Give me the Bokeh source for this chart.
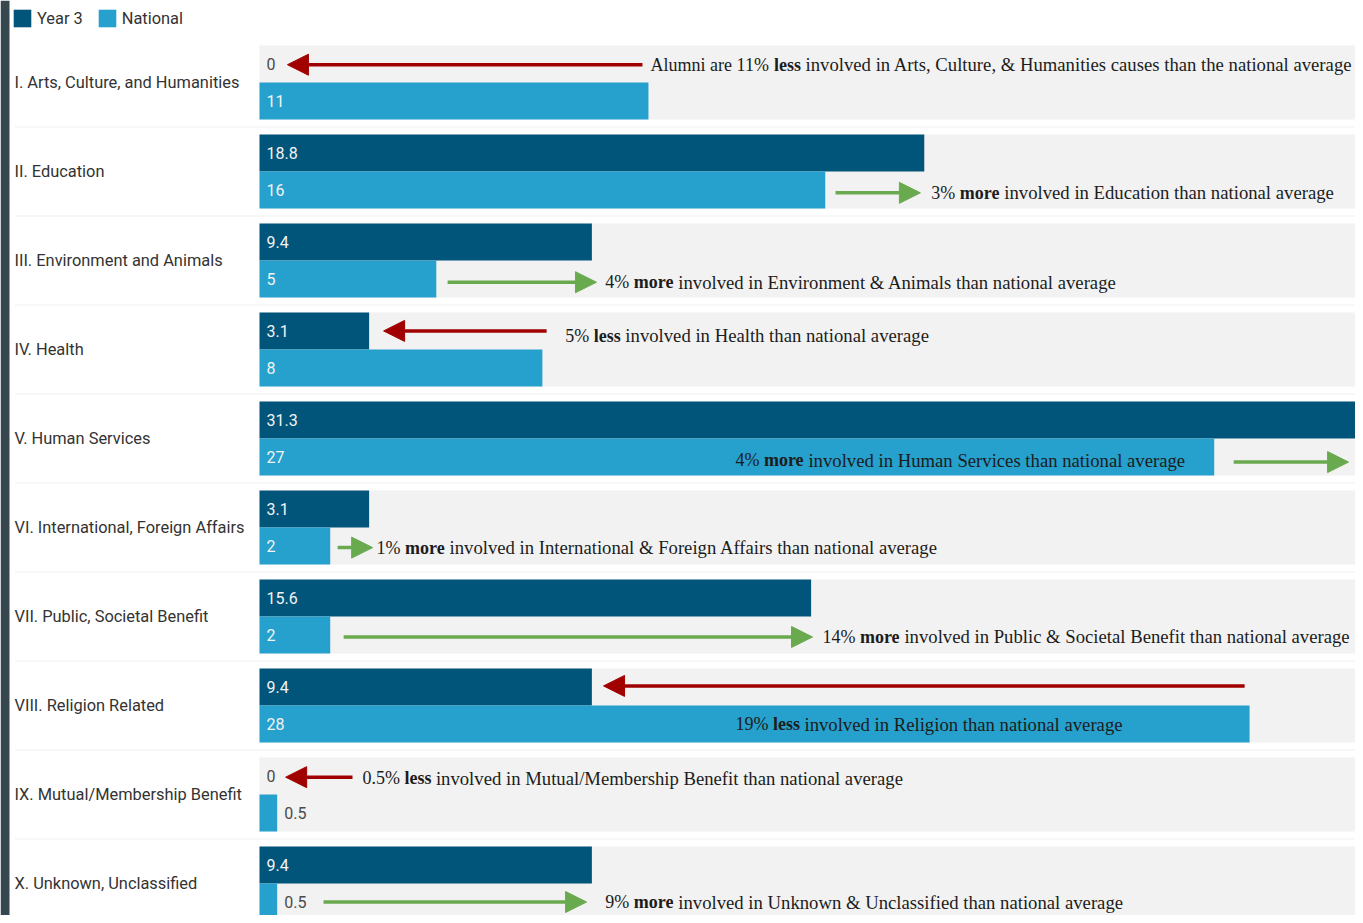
from bokeh.plotting import figure
from bokeh.models import ColumnDataSource, Range1d, Arrow, NormalHead, Legend, LegendItem
from bokeh.core.properties import value
from bokeh.embed import file_html
from bokeh.resources import INLINE

# ---------------- data ----------------
categories = [
    "I. Arts, Culture, and Humanities",
    "II. Education",
    "III. Environment and Animals",
    "IV. Health",
    "V. Human Services",
    "VI. International, Foreign Affairs",
    "VII. Public, Societal Benefit",
    "VIII. Religion Related",
    "IX. Mutual/Membership Benefit",
    "X. Unknown, Unclassified",
]
year3 = [0, 18.8, 9.4, 3.1, 31.3, 3.1, 15.6, 9.4, 0, 9.4]
national = [11, 16, 5, 8, 27, 2, 2, 28, 0.5, 0.5]
series_names = ["Year 3", "National"]

note_prefix = ["Alumni are 11%", "3%", "4%", "5%", "4%", "1%", "14%", "19%", "0.5%", "9%"]
note_word = ["less", "more", "more", "less", "more", "more", "more", "less", "less", "more"]
note_suffix = [
    "involved in Arts, Culture, & Humanities causes than the national average",
    "involved in Education than national average",
    "involved in Environment & Animals than national average",
    "involved in Health than national average",
    "involved in Human Services than national average",
    "involved in International & Foreign Affairs than national average",
    "involved in Public & Societal Benefit  than national average",
    "involved in Religion than national average",
    "involved in Mutual/Membership Benefit than national average",
    "involved in Unknown & Unclassified than national average",
]

# ---------------- layout ----------------
W, H = 1355, 915
PX = 35.36      # pixels per value unit
X0 = 259        # pixel column of value 0
CAT = 89.0      # pixels per category
Y0 = 82         # pixel row of first category centre
BAR_H = 37 / CAT
BAND_H = 74 / CAT

DARK = "#02557a"
LIGHT = "#26a0cd"
BAND = "#f2f2f2"
RED = "#a00000"
GREEN = "#6aaa4f"

def col(px):
    return (px - X0) / PX

x_start, x_end = -X0 / PX, (W - X0) / PX
y_top, y_bottom = -Y0 / CAT, (H - Y0) / CAT

# annotation placement: (arrow row offset, arrow tail, arrow tip, text x, text row offset)
notes_layout = [
    (-0.20, 10.83, 0.79, 11.06, -0.20),
    (0.24, 16.29, 18.69, 19.00, 0.24),
    (0.244, 5.32, 9.53, 9.78, 0.244),
    (-0.209, 8.12, 3.51, 8.65, -0.153),
    (0.265, 27.55, 30.8, 13.46, 0.243),
    (0.226, 2.21, 3.20, 3.31, 0.226),
    (0.23, 2.38, 15.64, 15.92, 0.23),
    (-0.22, 27.86, 9.73, 13.46, 0.213),
    (-0.195, 2.63, 0.74, 2.91, -0.184),
    (0.208, 1.81, 9.25, 9.78, 0.208),
]

FS = 18
FS_SUF = 18.7
TIMES = {" ": 250, "%": 833, ".": 250, "A": 722, "l": 278, "u": 500, "m": 778,
         "n": 500, "i": 278, "a": 444, "r": 333, "e": 444}
for d in "0123456789":
    TIMES[d] = 500
TIMES_B = {"l": 278, "e": 444, "s": 389, "m": 833, "o": 500, "r": 444}

def width(s, table):
    return sum(table.get(c, 500) for c in s) * FS / 1000.0

p = figure(width=W, height=H, output_backend="svg", toolbar_location=None,
           x_range=Range1d(x_start, x_end), y_range=Range1d(y_bottom, y_top),
           x_axis_location=None, y_axis_location=None,
           min_border=0, min_border_left=0, min_border_right=0,
           min_border_top=0, min_border_bottom=0)
p.outline_line_color = None
p.grid.visible = False
p.background_fill_color = "white"
p.border_fill_color = "white"

n = len(categories)
ys = list(range(n))

# left dark strip
p.quad(left=[x_start], right=[col(9)], top=[y_top], bottom=[y_bottom],
       fill_color="#37474f", line_color=None)

# background bands
p.hbar(y=ys, left=0, right=x_end + 1, height=BAND_H, fill_color=BAND, line_color=None)

# separators
sep_y = [i + 0.5 for i in range(n - 1)]
p.segment(x0=col(15), x1=x_end, y0=sep_y, y1=sep_y, line_color="#dedede",
          line_width=1, line_dash="1 1")

# bars
src = ColumnDataSource(dict(
    y3=[i - BAR_H / 2 for i in ys], yn=[i + BAR_H / 2 for i in ys],
    year3=year3, national=national))
r1 = p.hbar(y="y3", left=0, right="year3", height=BAR_H, source=src,
            fill_color=DARK, line_color=None)
r2 = p.hbar(y="yn", left=0, right="national", height=BAR_H, source=src,
            fill_color=LIGHT, line_color=None)

# value labels
lx, ly, lt, lc = [], [], [], []
for vals, off in ((year3, -BAR_H / 2), (national, BAR_H / 2)):
    for i, v in enumerate(vals):
        inside = v >= 1.5
        lx.append(0.2 if inside else v + 0.2)
        ly.append(i + off)
        lt.append(f"{v:g}")
        lc.append("#f4f4f4" if inside else "#4a4a4a")
p.text(x=lx, y=ly, text=lt, text_color=lc, text_font=value("Roboto"),
       text_font_size="16px", text_baseline="middle", text_align="left")

# category labels
p.text(x=[col(14)] * n, y=ys, text=categories, text_color="#333333",
       text_font=value("Roboto"), text_font_size="16.4px",
       text_baseline="middle", text_align="left")

# annotations
arrows = {"less": dict(x0=[], y0=[], x1=[], y1=[]), "more": dict(x0=[], y0=[], x1=[], y1=[])}
pre = dict(x=[], y=[], t=[])
bold = dict(x=[], y=[], t=[])
suf = dict(x=[], y=[], t=[])
for i, (ady, tail, tip, tx, tdy) in enumerate(notes_layout):
    a = arrows[note_word[i]]
    a["x0"].append(tail); a["x1"].append(tip)
    a["y0"].append(i + ady); a["y1"].append(i + ady)
    yy = i + tdy
    pre["x"].append(tx); pre["y"].append(yy); pre["t"].append(note_prefix[i])
    bx = tx + width(note_prefix[i] + " ", TIMES) / PX
    bold["x"].append(bx); bold["y"].append(yy); bold["t"].append(note_word[i])
    sx = bx + (width(note_word[i], TIMES_B) + width(" ", TIMES)) / PX
    suf["x"].append(sx); suf["y"].append(yy); suf["t"].append(note_suffix[i])

for word, color in (("less", RED), ("more", GREEN)):
    a = arrows[word]
    asrc = ColumnDataSource(a)
    p.add_layout(Arrow(x_start="x0", y_start="y0", x_end="x1", y_end="y1", source=asrc,
                       line_color=color, line_width=3.5,
                       end=NormalHead(size=21, fill_color=color, line_color=color, line_width=1)))

for d, style, fs in ((pre, "normal", FS), (bold, "bold", FS), (suf, "normal", FS_SUF)):
    p.text(x=d["x"], y=d["y"], text=d["t"], text_color="#1c1c1c",
           text_font=value("Liberation Serif"), text_font_size=f"{fs}px",
           text_font_style=style, text_baseline="middle", text_align="left")

legend = Legend(items=[LegendItem(label=series_names[0], renderers=[r1]),
                       LegendItem(label=series_names[1], renderers=[r2])],
                location=(11, H - 29), orientation="horizontal",
                padding=0, margin=0, spacing=13, label_standoff=4,
                glyph_width=22, glyph_height=22, label_height=22,
                label_text_font="Roboto", label_text_font_size="16.4px",
                label_text_color="#333333", border_line_alpha=0,
                background_fill_alpha=0)
p.add_layout(legend)

open("out.html", "w").write(file_html(p, INLINE))
